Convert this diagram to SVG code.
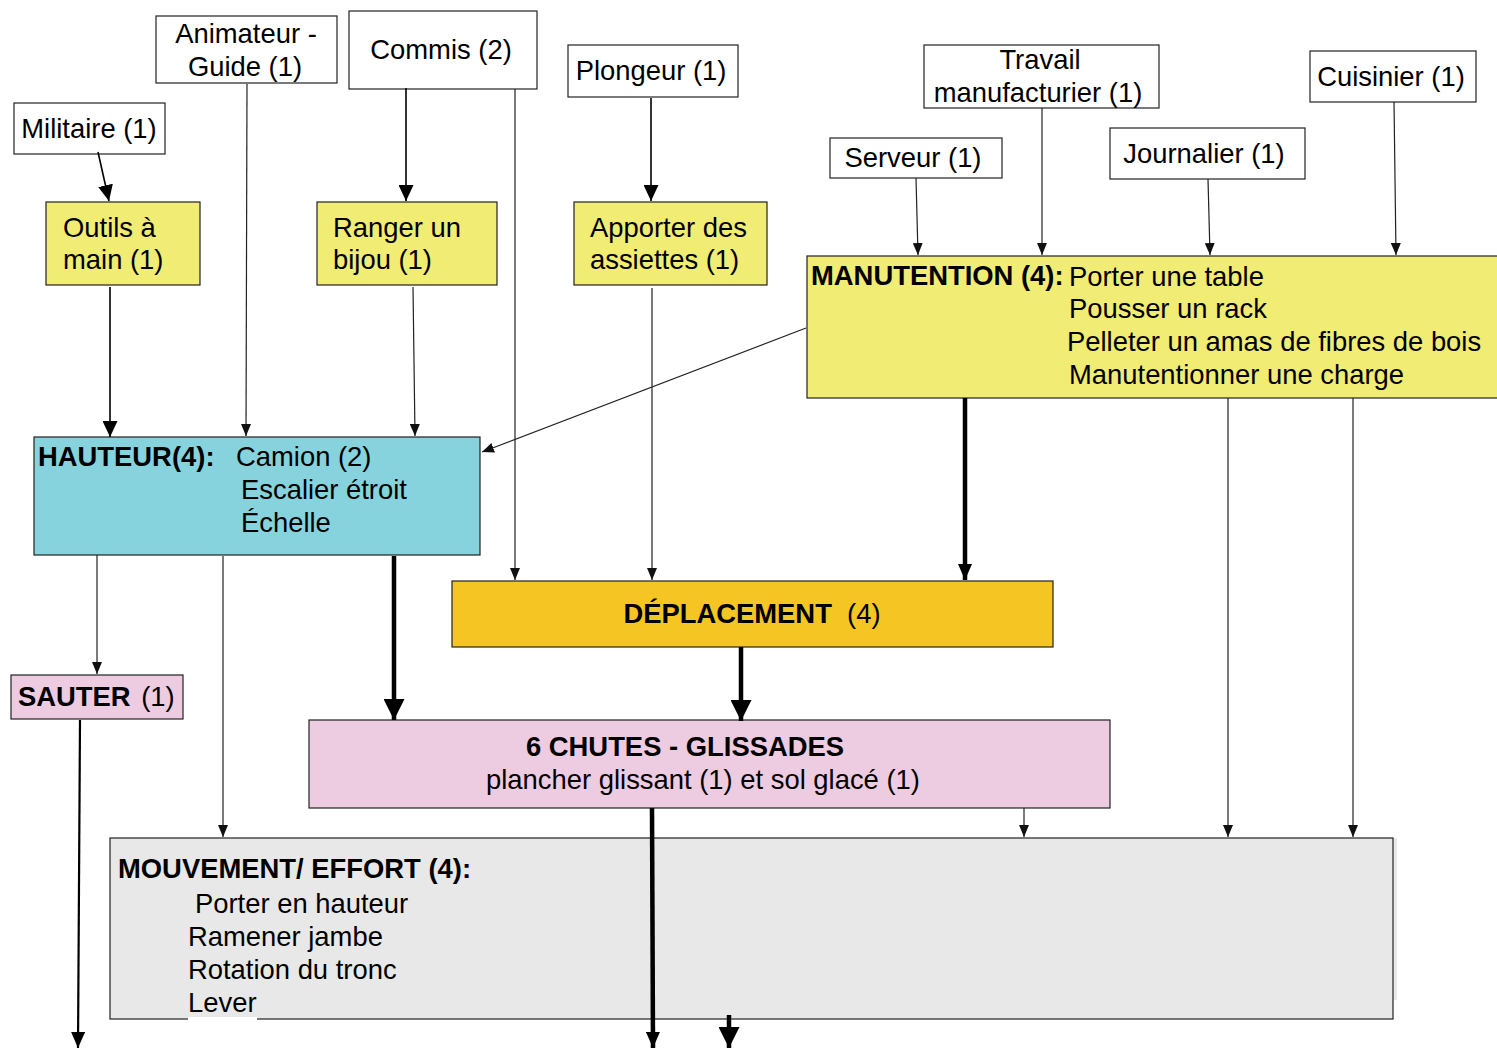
<svg xmlns="http://www.w3.org/2000/svg" width="1497" height="1048" viewBox="0 0 1497 1048">
<style>
text{font-family:"Liberation Sans",Arial,sans-serif;font-size:27.4px;fill:#000}
.b{font-weight:bold}
.c{text-anchor:middle}
.box{stroke:#222;stroke-width:1.2}
.w{fill:#fff}
.y{fill:#F0EC74}
.cy{fill:#86D3DD}
.or{fill:#F5C623}
.pk{fill:#EDCBE1}
.gr{fill:#E8E8E8}
.thin{stroke:#222;stroke-width:1.2;fill:none}
.med{stroke:#000;stroke-width:1.6;fill:none}
.thick{stroke:#000;stroke-width:4.5;fill:none}
</style>
<defs>
<marker id="s" markerUnits="userSpaceOnUse" markerWidth="12" markerHeight="10" refX="12" refY="5" orient="auto"><path d="M0,0 L12,5 L0,10 z" fill="#111"/></marker>
<marker id="m" markerUnits="userSpaceOnUse" markerWidth="16" markerHeight="15" refX="16" refY="7.5" orient="auto"><path d="M0,0 L16,7.5 L0,15 z" fill="#000"/></marker>
<marker id="l" markerUnits="userSpaceOnUse" markerWidth="21" markerHeight="21" refX="21" refY="10.5" orient="auto"><path d="M0,0 L21,10.5 L0,21 z" fill="#000"/></marker>
<marker id="bt" markerUnits="userSpaceOnUse" markerWidth="16" markerHeight="14" refX="16" refY="7" orient="auto"><path d="M0,0 L16,7 L0,14 z" fill="#000"/></marker>
</defs>
<rect width="1497" height="1048" fill="#fff"/>

<g id="militaire"><rect class="box w" x="14" y="103" width="151" height="51"/><text class="c" x="89" y="138">Militaire (1)</text></g>
<g id="animateur"><rect class="box w" x="156" y="16" width="181" height="67"/><text class="c" x="246" y="43">Animateur -</text><text class="c" x="245" y="76">Guide (1)</text></g>
<g id="commis"><rect class="box w" x="349" y="11" width="188" height="78"/><text class="c" x="441" y="59">Commis (2)</text></g>
<g id="plongeur"><rect class="box w" x="568" y="45" width="170" height="52"/><text class="c" x="651" y="80">Plongeur (1)</text></g>
<g id="travail"><rect class="box w" x="924" y="45" width="235" height="63"/><text class="c" x="1040" y="69">Travail</text><text class="c" x="1038" y="102">manufacturier (1)</text></g>
<g id="cuisinier"><rect class="box w" x="1310" y="51" width="166" height="51"/><text class="c" x="1391" y="86">Cuisinier (1)</text></g>
<g id="serveur"><rect class="box w" x="830" y="138" width="172" height="40"/><text class="c" x="913" y="167">Serveur (1)</text></g>
<g id="journalier"><rect class="box w" x="1110" y="128" width="195" height="51"/><text class="c" x="1204" y="163">Journalier (1)</text></g>

<g id="outils"><rect class="box y" x="46" y="202" width="154" height="83"/><text x="63" y="237">Outils à</text><text x="63" y="269">main (1)</text></g>
<g id="ranger"><rect class="box y" x="317" y="202" width="180" height="83"/><text x="333" y="237">Ranger un</text><text x="333" y="269">bijou (1)</text></g>
<g id="apporter"><rect class="box y" x="574" y="202" width="193" height="83"/><text x="590" y="237">Apporter des</text><text x="590" y="269">assiettes (1)</text></g>

<g id="manutention"><rect class="box y" x="807" y="256" width="700" height="142"/>
<text class="b" x="811" y="285">MANUTENTION (4):</text>
<text x="1069" y="286">Porter une table</text>
<text x="1069" y="318">Pousser un rack</text>
<text x="1067" y="351">Pelleter un amas de fibres de bois</text>
<text x="1069" y="384">Manutentionner une charge</text></g>

<g id="hauteur"><rect class="box cy" x="34" y="437" width="446" height="118"/>
<text class="b" x="38" y="466">HAUTEUR(4):</text>
<text x="236" y="466">Camion (2)</text>
<text x="241" y="499">Escalier étroit</text>
<text x="241" y="532">Échelle</text></g>

<g id="deplacement"><rect class="box or" x="452" y="581" width="601" height="66"/>
<text class="c" x="752" y="623" xml:space="preserve"><tspan class="b">DÉPLACEMENT</tspan>  (4)</text></g>

<g id="sauter"><rect class="box pk" x="11" y="675" width="172" height="44"/>
<text x="18" y="706"><tspan class="b">SAUTER</tspan><tspan dx="3"> (1)</tspan></text></g>

<g id="chutes"><rect class="box pk" x="309" y="720" width="801" height="88"/>
<text class="b c" x="685" y="756">6 CHUTES - GLISSADES</text>
<text class="c" x="703" y="789">plancher glissant (1) et sol glacé (1)</text></g>

<g id="mouvement"><rect x="1393" y="838" width="4" height="162" fill="#E8E8E8"/><rect class="box gr" x="110" y="838" width="1283" height="181"/>
<rect x="188" y="1017" width="69" height="4" fill="#fff"/>
<text class="b" x="118" y="878">MOUVEMENT/ EFFORT (4):</text>
<text x="195" y="913">Porter en hauteur</text>
<text x="188" y="946">Ramener jambe</text>
<text x="188" y="979">Rotation du tronc</text>
<text x="188" y="1012">Lever</text></g>

<g id="connectors">
<line class="med" x1="98" y1="152" x2="109" y2="201" marker-end="url(#m)"/>
<line class="thin" x1="247" y1="84" x2="246" y2="436" marker-end="url(#s)"/>
<line class="med" x1="406" y1="88" x2="406" y2="201" marker-end="url(#m)"/>
<line class="thin" x1="515" y1="89" x2="515" y2="580" marker-end="url(#s)"/>
<line class="med" x1="651" y1="98" x2="651" y2="201" marker-end="url(#m)"/>
<line class="med" x1="110" y1="287" x2="110" y2="437" marker-end="url(#m)"/>
<line class="thin" x1="413" y1="287" x2="415" y2="436" marker-end="url(#s)"/>
<line class="thin" x1="652" y1="288" x2="652" y2="580" marker-end="url(#s)"/>
<line class="thin" x1="806" y1="328" x2="482" y2="452" marker-end="url(#s)"/>
<line class="thin" x1="916" y1="178" x2="918" y2="255" marker-end="url(#s)"/>
<line class="thin" x1="1042" y1="108" x2="1042" y2="255" marker-end="url(#s)"/>
<line class="thin" x1="1208" y1="179" x2="1210" y2="255" marker-end="url(#s)"/>
<line class="thin" x1="1394" y1="102" x2="1396" y2="255" marker-end="url(#s)"/>
<line class="thick" x1="965" y1="398" x2="965" y2="580" marker-end="url(#bt)"/>
<line class="thin" x1="1228" y1="398" x2="1228" y2="837" marker-end="url(#s)"/>
<line class="thin" x1="1353" y1="398" x2="1353" y2="837" marker-end="url(#s)"/>
<line class="thin" x1="97" y1="555" x2="97" y2="674" marker-end="url(#s)"/>
<line class="thin" x1="223" y1="556" x2="223" y2="837" marker-end="url(#s)"/>
<line class="thick" x1="394" y1="556" x2="394" y2="720" marker-end="url(#l)"/>
<line class="thick" x1="741" y1="647" x2="741" y2="721" marker-end="url(#l)"/>
<line class="thin" x1="1024" y1="808" x2="1024" y2="837" marker-end="url(#s)"/>
<line class="thick" x1="652" y1="808" x2="653" y2="1048" marker-end="url(#bt)"/>
<line class="thick" x1="729" y1="1015" x2="729" y2="1048" marker-end="url(#l)"/>
<line class="med" style="stroke-width:2.2" x1="80" y1="720" x2="78" y2="1048" marker-end="url(#bt)"/>
</g>
</svg>
